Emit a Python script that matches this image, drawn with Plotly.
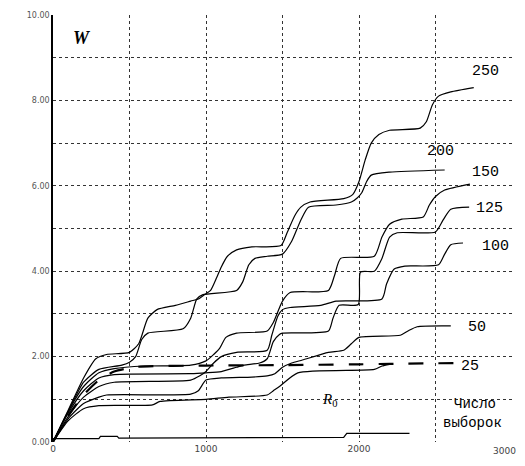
import plotly.graph_objects as go

# ---- data ----
x250 = [0, 100, 200, 280, 350, 500, 560, 620, 680, 800, 900, 950, 990, 1030, 1070, 1100, 1140, 1200, 1300, 1490, 1530, 1580, 1620, 1680, 1900, 1960, 2000, 2040, 2080, 2130, 2200, 2400, 2440, 2480, 2520, 2600, 2750]
y250 = [0, 0.75, 1.5, 1.95, 2.05, 2.1, 2.3, 2.9, 3.1, 3.2, 3.3, 3.35, 3.45, 3.55, 3.85, 4.1, 4.35, 4.5, 4.57, 4.6, 4.9, 5.3, 5.5, 5.62, 5.7, 5.8, 6.1, 6.6, 7.0, 7.2, 7.3, 7.35, 7.5, 7.9, 8.1, 8.2, 8.3]

x200 = [0, 100, 200, 300, 450, 500, 540, 580, 620, 850, 900, 940, 980, 1200, 1240, 1280, 1320, 1400, 1500, 1560, 1620, 1670, 1850, 1950, 1990, 2020, 2050, 2080, 2200, 2560]
y200 = [0, 0.72, 1.4, 1.7, 1.8, 1.87, 2.0, 2.4, 2.55, 2.65, 2.9, 3.35, 3.45, 3.55, 3.75, 4.15, 4.3, 4.35, 4.4, 4.7, 5.2, 5.5, 5.55, 5.62, 5.72, 5.85, 6.1, 6.25, 6.32, 6.37]

x150 = [0, 100, 200, 300, 400, 600, 900, 1000, 1050, 1090, 1130, 1200, 1400, 1440, 1500, 1550, 1800, 1840, 1880, 2100, 2150, 2200, 2280, 2420, 2460, 2500, 2560, 2725]
y150 = [0, 0.72, 1.3, 1.62, 1.72, 1.78, 1.8, 1.9, 2.05, 2.2, 2.45, 2.55, 2.6, 2.8, 3.3, 3.5, 3.55, 3.9, 4.3, 4.35, 4.8, 5.1, 5.22, 5.27, 5.55, 5.75, 5.9, 6.04]

x125 = [0, 100, 200, 300, 400, 900, 1000, 1100, 1200, 1250, 1350, 1400, 1440, 1480, 1500, 1800, 1830, 1870, 1995, 2010, 2100, 2150, 2200, 2250, 2500, 2550, 2600, 2720]
y125 = [0, 0.68, 1.2, 1.5, 1.58, 1.6, 1.62, 1.65, 1.75, 1.8, 1.85, 1.95, 2.35, 2.52, 2.55, 2.6, 2.9, 3.2, 3.22, 3.98, 4.0, 4.3, 4.8, 4.9, 4.92, 5.2, 5.45, 5.5]

x100 = [0, 100, 200, 300, 400, 900, 960, 1000, 1050, 1100, 1200, 1400, 1430, 1470, 1500, 1550, 1750, 1850, 2150, 2180, 2230, 2300, 2520, 2560, 2600, 2680]
y100 = [0, 0.6, 1.05, 1.3, 1.4, 1.45, 1.55, 1.65, 1.85, 2.0, 2.1, 2.15, 2.5, 2.95, 3.1, 3.15, 3.2, 3.3, 3.35, 3.7, 4.05, 4.12, 4.15, 4.4, 4.62, 4.66]

x50 = [0, 100, 200, 300, 350, 900, 950, 1000, 1100, 1300, 1400, 1450, 1500, 1560, 1630, 1800, 1900, 1950, 2000, 2270, 2320, 2380, 2600]
y50 = [0, 0.55, 0.9, 1.05, 1.1, 1.12, 1.2, 1.45, 1.5, 1.52, 1.55, 1.6, 1.75, 1.85, 1.92, 2.1, 2.15, 2.3, 2.45, 2.5, 2.6, 2.7, 2.72]

x25 = [0, 100, 200, 300, 400, 550, 1000, 1500, 2000, 2200, 2640]
y25 = [0, 0.62, 1.1, 1.45, 1.65, 1.76, 1.79, 1.8, 1.82, 1.83, 1.85]

xlow = [0, 100, 200, 300, 650, 700, 1000, 1150, 1400, 1440, 1480, 1600, 2100, 2150, 2200]
ylow = [0, 0.5, 0.78, 0.85, 0.87, 0.95, 1.0, 1.05, 1.1, 1.2, 1.3, 1.62, 1.7, 1.78, 1.82]

xR0 = [0, 300, 310, 420, 430, 1000, 1900, 1920, 2330]
yR0 = [0.08, 0.08, 0.13, 0.13, 0.09, 0.1, 0.11, 0.2, 0.2]

labels = ["250", "200", "150", "125", "100", "50", "25"]
label_x = [2824, 2530, 2824, 2856, 2889, 2771, 2725]
label_y = [8.67, 6.8, 6.32, 5.48, 4.59, 2.67, 1.76]

yticks = [0, 2, 4, 6, 8, 10]
ytick_text = ["0.00", "2.00", "4.00", "6.00", "8.00", "10.00"]
xticks = [0, 1000, 2000, 3000]
xtick_text = ["0", "1000", "2000", ""]
last_xtick_label = "3000"

fig = go.Figure()

thin = dict(color="black", width=1.2, smoothing=0.6)
for xs, ys in [(x250, y250), (x200, y200), (x150, y150), (x125, y125),
               (x100, y100), (x50, y50), (xlow, ylow)]:
    fig.add_trace(go.Scatter(x=xs, y=ys, mode="lines", line=thin,
                             line_shape="spline", hoverinfo="skip"))

fig.add_trace(go.Scatter(x=xR0, y=yR0, mode="lines",
                         line=dict(color="black", width=1.2),
                         hoverinfo="skip"))

fig.add_trace(go.Scatter(x=x25, y=y25, mode="lines",
                         line=dict(color="black", width=2.2, dash="longdash",
                                   smoothing=0.6),
                         line_shape="spline", hoverinfo="skip"))

mono = "Liberation Mono, Courier New, monospace"
for t, lx, ly in zip(labels, label_x, label_y):
    fig.add_annotation(x=lx, y=ly, text=t, showarrow=False,
                       font=dict(family=mono, size=15, color="black"))

fig.add_annotation(x=2760, y=0.9, text="Число", showarrow=False,
                   font=dict(family=mono, size=14, color="black"))
fig.add_annotation(x=2740, y=0.45, text="выборок", showarrow=False,
                   font=dict(family=mono, size=14, color="black"))
fig.add_annotation(x=1810, y=0.98, text="<i>R</i><sub>0</sub>", showarrow=False,
                   font=dict(family="Liberation Serif, serif", size=15, color="black"))
fig.add_annotation(x=190, y=9.46, text="<b><i>W</i></b>", showarrow=False,
                   font=dict(family="Liberation Serif, serif", size=18, color="black"))
# last x tick label, right-aligned so it stays inside the page
fig.add_annotation(x=xticks[-1], y=0, yref="y", text=last_xtick_label,
                   showarrow=False, xanchor="right", yanchor="top",
                   xshift=6, yshift=-2,
                   font=dict(size=9, color="#444444", family="DejaVu Sans"))

fig.update_xaxes(range=[0, 3000], tickvals=xticks, ticktext=xtick_text,
                 tickfont=dict(size=9, color="#444444", family="DejaVu Sans"),
                 showline=False, zeroline=False, ticks="", automargin=False,
                 showgrid=True, gridcolor="#333333", gridwidth=1, griddash="dot",
                 minor=dict(dtick=500, showgrid=True, gridcolor="#333333", griddash="dot"))
fig.update_yaxes(range=[0, 10], tickvals=yticks, ticktext=ytick_text,
                 tickfont=dict(size=8, color="#555555", family="DejaVu Sans"),
                 showline=True, linecolor="black", linewidth=1.5,
                 zeroline=False, ticks="", automargin=False,
                 showgrid=True, gridcolor="#333333", gridwidth=1, griddash="dot",
                 minor=dict(dtick=1, showgrid=True, gridcolor="#333333", griddash="dot"))

# page body adds an 8px offset, so the figure is a bit smaller and shifted margins
fig.update_layout(width=517, height=458, showlegend=False,
                  margin=dict(l=45, r=13, t=7, b=24, autoexpand=False),
                  plot_bgcolor="white", paper_bgcolor="white")

fig.write_html("out.html")
